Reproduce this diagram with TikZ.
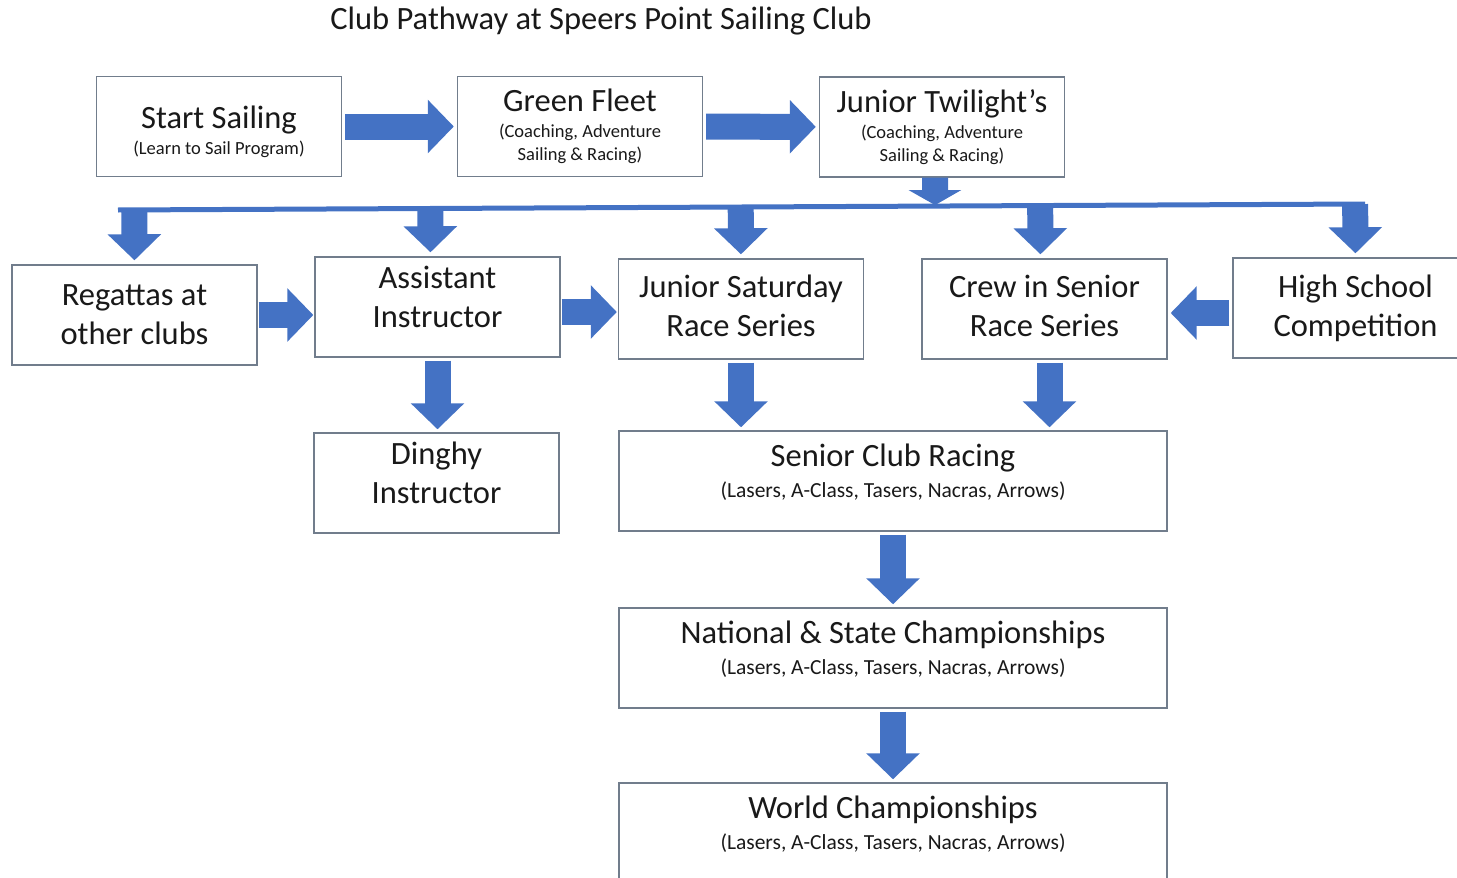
\documentclass[tikz,border=0pt]{standalone}
\usepackage{fontspec}
\setmainfont{Carlito}
\usetikzlibrary{arrows.meta,calc}
\definecolor{pathblue}{HTML}{4472C4}
\definecolor{boxgray}{HTML}{717D8C}
\newcommand{\subline}[1]{{\fontsize{18.5}{22}\selectfont #1}}
\newcommand{\boatline}[1]{{\fontsize{21.5}{26}\selectfont #1}}

\begin{document}
\begin{tikzpicture}[x=1pt,y=-1pt,
  box/.style={draw=boxgray,line width=1.4pt,fill=white,minimum width=245pt,minimum height=100pt,
    align=center,inner sep=0pt,text=black!90,font=\fontsize{32.5}{39}\selectfont},
  widebox/.style={box,minimum width=548pt,text depth=21.5pt},
  lift/.style={text depth=#1},
  blockarrow/.style={pathblue,line width=26pt,-{Triangle[width=52pt,length=26pt]},shorten <=3pt,shorten >=3pt}]
\clip (0,0) rectangle (1457,878);
\node[text=black!90,font=\fontsize{32.5}{39}\selectfont] (title) at (601,21) {Club Pathway at Speers Point Sailing Club};
% top row
\node[box,text height=60pt] (start) at (219,126.5) {Start Sailing\\[-13pt]\subline{(Learn to Sail Program)}};
\node[box] (green) at (580,126.5) {Green Fleet\\[-13pt]\subline{(Coaching, Adventure}\\[-16pt]\subline{Sailing \& Racing)}};
\node[box] (twilight) at (942,127) {Junior Twilight’s\\[-13pt]\subline{(Coaching, Adventure}\\[-16pt]\subline{Sailing \& Racing)}};
% second row
\node[box] (regatta) at (134.5,315) {Regattas at\\other clubs};
\node[box,lift=20pt] (assist) at (437.5,307) {Assistant\\Instructor};
\node[box,lift=6pt] (jsat) at (741,309) {Junior Saturday\\Race Series};
\node[box,lift=6pt] (crew) at (1044.5,309) {Crew in Senior\\Race Series};
\node[box,lift=4pt] (school) at (1355.5,308) {High School\\Competition};
% lower part
\node[box,lift=20pt] (dinghy) at (436.5,483) {Dinghy\\Instructor};
\node[widebox] (senior) at (893,481) {Senior Club Racing\\[-8pt]\boatline{(Lasers, A-Class, Tasers, Nacras, Arrows)}};
\node[widebox] (national) at (893,658) {National \& State Championships\\[-8pt]\boatline{(Lasers, A-Class, Tasers, Nacras, Arrows)}};
\node[widebox] (world) at (893,833) {World Championships\\[-8pt]\boatline{(Lasers, A-Class, Tasers, Nacras, Arrows)}};
% arrows
\draw[blockarrow] (start) -- (green);
\draw[blockarrow] (green) -- (twilight);
\draw[pathblue,line width=5pt] (118,210) coordinate (barL) -- (1365,204) coordinate (barR);
\draw[blockarrow,-{Triangle[width=52pt,length=15pt]},shorten <=0pt,shorten >=1pt]
  ([xshift=-7pt]twilight.south) -- ($(barL)!([xshift=-7pt]twilight.south)!(barR)$);
\draw[blockarrow,shorten <=0pt,shorten >=4pt] ($(barL)!(regatta.north)!(barR)$) -- (regatta.north);
\draw[blockarrow,shorten <=0pt,shorten >=4pt] ($(barL)!([xshift=-7pt]assist.north)!(barR)$) -- ([xshift=-7pt]assist.north);
\draw[blockarrow,shorten <=0pt,shorten >=4pt] ($(barL)!(jsat.north)!(barR)$) -- (jsat.north);
\draw[blockarrow,shorten <=0pt,shorten >=4pt] ($(barL)!([xshift=-4pt]crew.north)!(barR)$) -- ([xshift=-4pt]crew.north);
\draw[blockarrow,shorten <=0pt,shorten >=4pt] ($(barL)!(school.north)!(barR)$) -- (school.north);
\draw[blockarrow,shorten <=1pt,shorten >=1pt] (regatta.east) -- (regatta.east -| assist.west);
\draw[blockarrow,shorten <=1pt,shorten >=1pt] ([yshift=-5pt]assist.east) -- ([yshift=-5pt]assist.east -| jsat.west);
\draw[blockarrow] ([yshift=-5pt]school.west) -- ([yshift=-5pt]school.west -| crew.east);
\draw[blockarrow] (assist.south) -- (assist.south |- dinghy.north);
\draw[blockarrow] (jsat.south) -- (jsat.south |- senior.north);
\draw[blockarrow] ([xshift=5pt]crew.south) -- ([xshift=5pt]crew.south |- senior.north);
\draw[blockarrow] (senior) -- (national);
\draw[blockarrow] (national) -- (world);
\end{tikzpicture}
\end{document}
